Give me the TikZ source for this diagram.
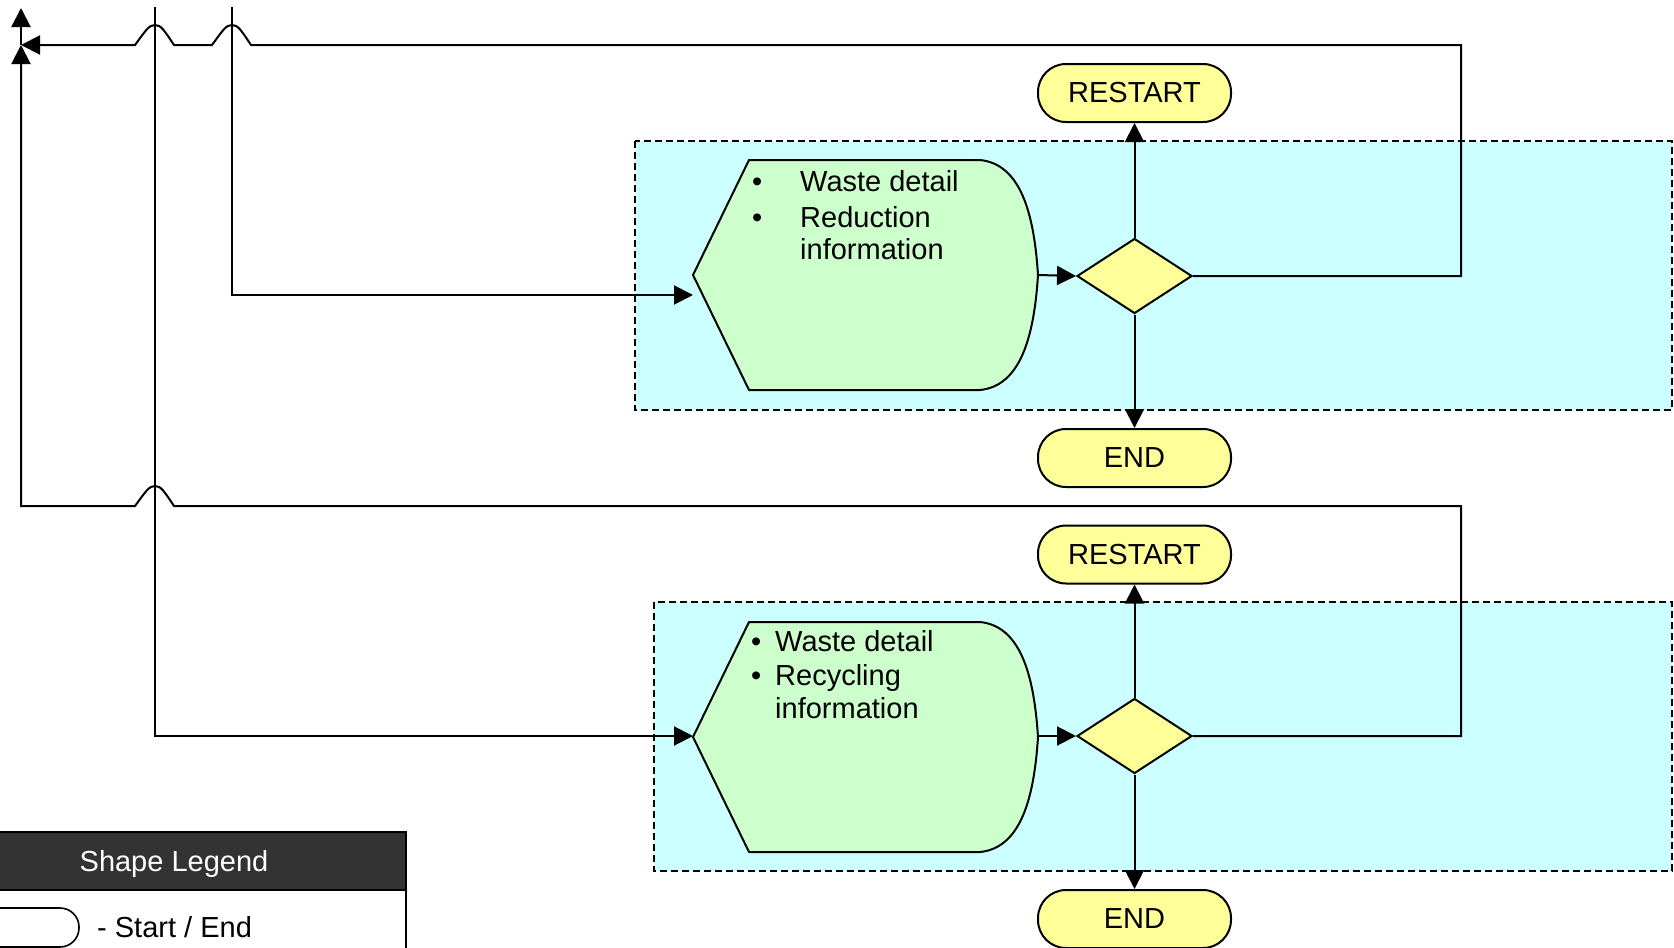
\documentclass[tikz,border=0pt]{standalone}
\usepackage{fontspec}
\setmainfont{Liberation Sans}
\usetikzlibrary{arrows.meta,shapes.geometric}
\definecolor{boxcyan}{HTML}{CCFFFF}
\definecolor{hexgreen}{HTML}{CCFFCC}
\definecolor{termyellow}{HTML}{FFFF99}
\definecolor{legdark}{HTML}{333333}
\tikzset{
  conn/.style={line width=2pt, draw=black},
  arr/.style={conn, -{Triangle[length=19pt,width=19pt]}},
  terminal/.style={draw, line width=2pt, fill=termyellow, rounded corners=28pt,
    minimum width=193pt, minimum height=58pt, inner sep=0pt, font=\fontsize{29}{33}\selectfont},
  decision/.style={draw, line width=2pt, fill=termyellow, diamond,
    minimum width=115pt, minimum height=75pt, inner sep=0pt},
  groupbox/.style={draw, fill=boxcyan, line width=2pt, dash pattern=on 7pt off 4pt},
  hexa/.style={draw, fill=hexgreen, line width=2pt, line join=round},
  txt/.style={anchor=base west, inner sep=0pt, font=\fontsize{29}{33}\selectfont},
  legline/.style={draw, line width=1.6pt},
}
\begin{document}
\begin{tikzpicture}[x=1pt,y=-1pt]
\useasboundingbox (0,0) rectangle (1674,948);
\clip (0,0) rectangle (1674,948);
\fill[white] (0,0) rectangle (1674,948);

% group boxes
\path[groupbox] (635,141) rectangle (1672,410);
\path[groupbox] (654,602) rectangle (1672,871);

% hexagon-like display shapes
\path[hexa] (749,160) -- (980,160) .. controls (1020,164) and (1034,212) .. (1038,275)
  .. controls (1034,338) and (1020,386) .. (980,390) -- (749,390) -- (693,275) -- cycle;
\path[hexa] (749,622) -- (980,622) .. controls (1020,626) and (1034,674) .. (1038,737)
  .. controls (1034,800) and (1020,848) .. (980,852) -- (749,852) -- (693,737) -- cycle;
\coordinate (h1w) at (693,275);
\coordinate (h1e) at (1038,275);
\coordinate (h1in) at (693,295);
\coordinate (h2w) at (693,736);
\coordinate (h2e) at (1038,736);

% texts in shapes
\node[txt] (b1a) at (752,191) {\textbullet};
\node[txt] (t1a) at (800,191) {Waste detail};
\node[txt] (b1b) at (752,227) {\textbullet};
\node[txt] (t1b) at (800,227) {Reduction};
\node[txt] (t1c) at (800,259) {information};

\node[txt] (b2a) at (751,651) {\textbullet};
\node[txt] (t2a) at (775,651) {Waste detail};
\node[txt] (b2b) at (751,685) {\textbullet};
\node[txt] (t2b) at (775,685) {Recycling};
\node[txt] (t2c) at (775,718) {information};

% terminals and decisions
\node[terminal] (r1) at (1134.5,93) {RESTART};
\node[terminal] (e1) at (1134.5,458) {END};
\node[terminal] (r2) at (1134.5,554.5) {RESTART};
\node[terminal] (e2) at (1134.5,919) {END};
\node[decision] (d1) at (1134.5,276) {};
\node[decision] (d2) at (1134.5,736) {};

% coordinates for routing
\coordinate (j) at (21,45);
\coordinate (up) at (21,8);
\coordinate (c1) at (1461,276);
\coordinate (c2) at (1461,45);
\coordinate (c3) at (1461,736);
\coordinate (c4) at (1461,506);
\coordinate (c5) at (21,506);
\coordinate (v1top) at (155,7);
\coordinate (v1bot) at (155,736);
\coordinate (v2top) at (232,7);
\coordinate (v2bot) at (232,295);

% connectors
\draw[arr] (h1e) -- (d1.west);
\draw[arr] (h2e) -- (d2.west);
\draw[arr] (d1.north) -- (r1.south);
\draw[arr] (d1.south) -- (e1.north);
\draw[arr] (d2.north) -- (r2.south);
\draw[arr] (d2.south) -- (e2.north);

\draw[arr] (v1top) -- (v1bot) -- (h2w);
\draw[arr] (v2top) -- (v2bot) -- (h1in);

\draw[arr] (d1.east) -- (c1) -- (c2) -- (251,45)
  .. controls (241,30) and (238,25) .. (232,25)
  .. controls (226,25) and (223,30) .. (212,45) -- (174,45)
  .. controls (164,30) and (161,25) .. (155,25)
  .. controls (149,25) and (146,30) .. (135,45) -- (j);
\draw[arr] (d2.east) -- (c3) -- (c4) -- (174,506)
  .. controls (164,491) and (161,486) .. (155,486)
  .. controls (149,486) and (146,491) .. (135,506) -- (c5) -- (j);
\draw[arr] (j) -- (up);

% legend
\path[legline, fill=legdark] (-60,832) rectangle (406,890);
\node[font=\fontsize{29}{33}\selectfont, text=white, anchor=base, inner sep=0pt] (legtitle) at (174,871) {Shape Legend};
\path[legline, fill=white] (-60,890) rectangle (406,1000);
\path[legline, fill=white, rounded corners=19pt] (-60,908) rectangle (79,947);
\node[txt] (legtext) at (97,937) {- Start / End};
\end{tikzpicture}
\end{document}
